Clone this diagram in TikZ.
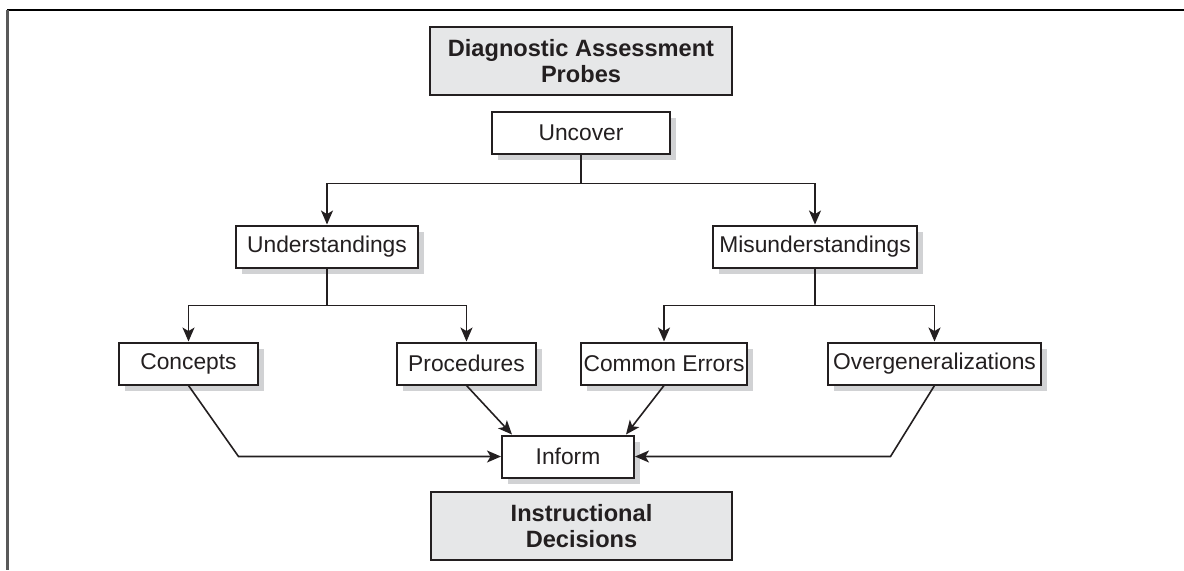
\documentclass[tikz,border=0pt]{standalone}
\usepackage{fontspec}
\setmainfont{Liberation Sans}
\usepackage{tikz}
\usetikzlibrary{positioning, calc, arrows.meta, shadows}
\definecolor{inkgray}{HTML}{231F20}
\definecolor{boxgray}{HTML}{E6E7E8}
\definecolor{shadegray}{HTML}{D1D2D4}
\tikzset{
	headbox/.style={draw=inkgray, line width=1pt, fill=boxgray, align=center, inner sep=0pt,
		font=\fontsize{11.8pt}{13.3pt}\selectfont\bfseries, text=inkgray}
}
\tikzset{
	plainbox/.style={draw=inkgray, line width=1pt, fill=white, inner sep=0pt,
		minimum height=21pt, font=\fontsize{11.4pt}{13.3pt}\selectfont, text=inkgray,
		drop shadow={shadow xshift=3pt, shadow yshift=-3pt, fill=shadegray, opacity=1}}
}
\tikzset{
	link/.style={draw=inkgray, line width=0.8pt, -{Stealth[length=7pt, width=6pt, inset=1.8pt]}}
}

\begin{document}
\begin{tikzpicture}[x=0.5pt, y=-0.5pt]
      \useasboundingbox (0,0) rectangle (1184,570);
      % frame: only top and left edges
      \draw[line width=1pt, black] (7,10) -- (1184,10);
      \draw[line width=1.5pt, black!65] (7,10) -- (7,570);
      % gray heading boxes
      \node[headbox, minimum width=151pt, minimum height=34pt] (diag) at (581,61) {Diagnostic Assessment\\Probes};
      \node[headbox, minimum width=150.5pt, minimum height=34pt] (decide) at (581.5,526) {Instructional\\Decisions};
      % the tree
      \node[plainbox, minimum width=89pt] (uncover) at (581,132.5) {Uncover};
      \node[plainbox, minimum width=91pt] (under) at (327,246.5) {Understandings};
      \node[plainbox, minimum width=102pt] (misunder) at (815,246.5) {Misunderstandings};
      \node[plainbox, minimum width=69.5pt] (concepts) at (188.5,363.5) {Concepts};
      \node[plainbox, minimum width=69.5pt] (proced) at (466.5,363.5) {Procedures};
      \node[plainbox, minimum width=83pt] (errors) at (664,363.5) {Common Errors};
      \node[plainbox, minimum width=106.5pt] (overgen) at (934.5,363.5) {Overgeneralizations};
      \node[plainbox, minimum width=66pt] (inform) at (568,456.5) {Inform};
      % branches
      \draw[link] (uncover.south) -- ++(0,29) -| (under.north);
      \draw[link] (uncover.south) -- ++(0,29) -| (misunder.north);
      \draw[link] (under.south) -- ++(0,37) -| (concepts.north);
      \draw[link] (under.south) -- ++(0,37) -| (proced.north);
      \draw[link] (misunder.south) -- ++(0,37) -| (errors.north);
      \draw[link] (misunder.south) -- ++(0,37) -| (overgen.north);
      % into inform
      \draw[link] (concepts.south) -- ([xshift=25pt]concepts.south |- inform.west) -- (inform.west);
      \draw[link] (overgen.south) -- ([xshift=-22pt]overgen.south |- inform.east) -- (inform.east);
      \draw[link] (proced.south) -- ([xshift=5.5pt]inform.north west);
      \draw[link] (errors.south) -- ([xshift=-4.5pt]inform.north east);
    \end{tikzpicture}
\end{document}
